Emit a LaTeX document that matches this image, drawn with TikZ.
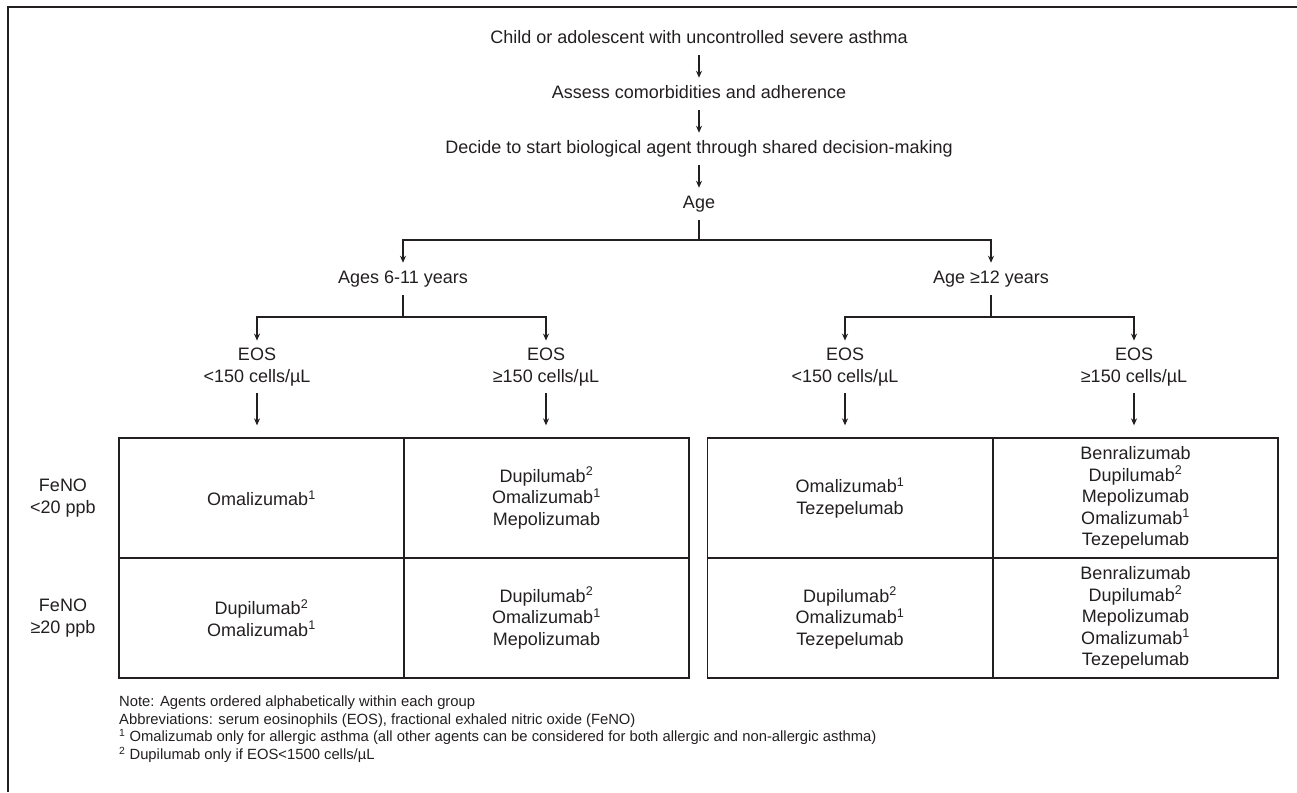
\documentclass[tikz,border=0pt]{standalone}
\usepackage{fontspec}
\setmainfont{Liberation Sans}
\usetikzlibrary{arrows.meta,positioning,calc}
\definecolor{inkgray}{HTML}{231F20}
\tikzset{
  stagetext/.style={font=\fontsize{18}{21.5}\selectfont,text=inkgray,align=center,inner sep=0pt,outer sep=7.5pt},
  oneline/.style={text height=13.5pt,text depth=4pt},
  flow/.style={-{Stealth[length=7pt,width=6pt]},line width=1.2pt,draw=inkgray},
  branch/.style={line width=1.2pt,draw=inkgray},
  cell/.style={draw=inkgray,line width=1.3pt,minimum width=285pt,minimum height=120pt,inner sep=0pt,align=center,text=inkgray,font=\fontsize{18}{21.5}\selectfont},
  note/.style={align=left,inner sep=0pt,text=inkgray,font=\fontsize{14.8}{17.5}\selectfont,anchor=north west}
}

\begin{document}
\begin{tikzpicture}[x=1pt,y=-1pt]
  \useasboundingbox (0,0) rectangle (1297,792);
  \draw[line width=2pt,draw=inkgray] (8,792) -- (8,7) -- (1297,7);

  % decision chain
  \node[stagetext,oneline] (child) at (699,39) {Child or adolescent with uncontrolled severe asthma};
  \node[stagetext,oneline] (assess) at (699,94) {Assess comorbidities and adherence};
  \node[stagetext,oneline] (decide) at (699,149) {Decide to start biological agent through shared decision-making};
  \node[stagetext,oneline] (age) at (699,204) {Age};
  \node[stagetext,oneline] (young) at (403,279) {Ages 6-11 years};
  \node[stagetext,oneline] (older) at (991,279) {Age ≥12 years};
  \node[stagetext] (youngLow) at (257,367) {EOS\\<150 cells/µL};
  \node[stagetext] (youngHigh) at (546,367) {EOS\\≥150 cells/µL};
  \node[stagetext] (olderLow) at (845,367) {EOS\\<150 cells/µL};
  \node[stagetext] (olderHigh) at (1134,367) {EOS\\≥150 cells/µL};
  \coordinate (agefork) at (699,240);
  \coordinate (youngfork) at (403,317);
  \coordinate (olderfork) at (991,317);

  \draw[flow] (child) -- (assess);
  \draw[flow] (assess) -- (decide);
  \draw[flow] (decide) -- (age);
  \draw[branch] (age) -- (agefork);
  \draw[flow] (agefork) -| (young);
  \draw[flow] (agefork) -| (older);
  \draw[branch] (young) -- (youngfork);
  \draw[flow] (youngfork) -| (youngLow);
  \draw[flow] (youngfork) -| (youngHigh);
  \draw[branch] (older) -- (olderfork);
  \draw[flow] (olderfork) -| (olderLow);
  \draw[flow] (olderfork) -| (olderHigh);

  % FeNO rows
  \node[stagetext] (fenoLow) at (63,498) {FeNO\\<20 ppb};
  \node[stagetext] (fenoHigh) at (63,618) {FeNO\\≥20 ppb};

  % ages 6-11 table
  \node[cell] (youngLowA) at (261.5,498) {Omalizumab\textsuperscript{1}};
  \node[cell] (youngHighA) at (546.5,498) {Dupilumab\textsuperscript{2}\\Omalizumab\textsuperscript{1}\\Mepolizumab};
  \node[cell] (youngLowB) at (261.5,618) {Dupilumab\textsuperscript{2}\\Omalizumab\textsuperscript{1}};
  \node[cell] (youngHighB) at (546.5,618) {Dupilumab\textsuperscript{2}\\Omalizumab\textsuperscript{1}\\Mepolizumab};

  % age >=12 table
  \node[cell] (olderLowA) at (850,498) {Omalizumab\textsuperscript{1}\\Tezepelumab};
  \node[cell] (olderHighA) at (1135.5,498) {Benralizumab\\Dupilumab\textsuperscript{2}\\Mepolizumab\\Omalizumab\textsuperscript{1}\\Tezepelumab};
  \node[cell] (olderLowB) at (850,618) {Dupilumab\textsuperscript{2}\\Omalizumab\textsuperscript{1}\\Tezepelumab};
  \node[cell] (olderHighB) at (1135.5,618) {Benralizumab\\Dupilumab\textsuperscript{2}\\Mepolizumab\\Omalizumab\textsuperscript{1}\\Tezepelumab};

  \draw[flow,shorten >=12pt] (youngLow) -- (youngLow |- youngLowA.north);
  \draw[flow,shorten >=12pt] (youngHigh) -- (youngHigh |- youngHighA.north);
  \draw[flow,shorten >=12pt] (olderLow) -- (olderLow |- olderLowA.north);
  \draw[flow,shorten >=12pt] (olderHigh) -- (olderHigh |- olderHighA.north);

  \node[note] (notes) at (119,696) {Note: Agents ordered alphabetically within each group\\
    Abbreviations: serum eosinophils (EOS), fractional exhaled nitric oxide (FeNO)\\
    \textsuperscript{1} Omalizumab only for allergic asthma (all other agents can be considered for both allergic and non-allergic asthma)\\
    \textsuperscript{2} Dupilumab only if EOS<1500 cells/µL};
\end{tikzpicture}
\end{document}
